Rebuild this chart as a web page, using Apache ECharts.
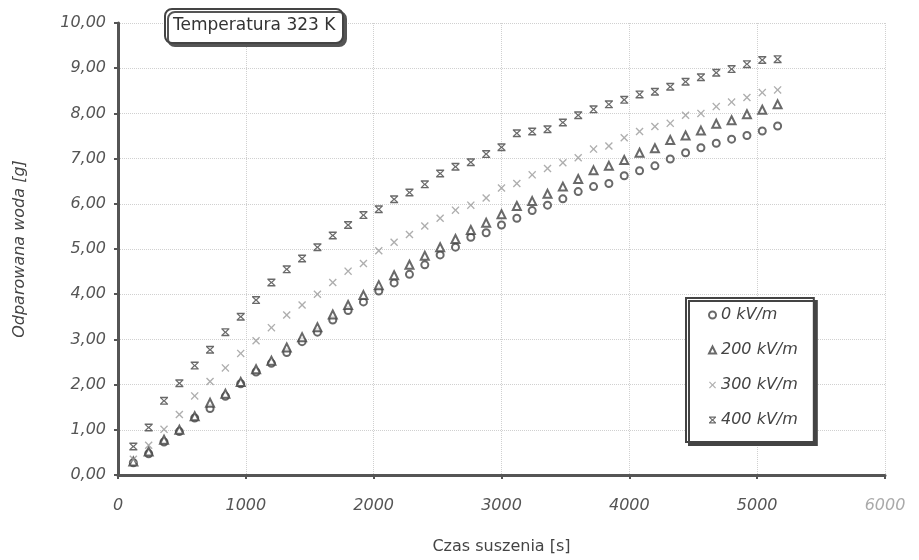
<!DOCTYPE html>
<html>
<head>
<meta charset="utf-8">
<script src="https://cdn.jsdelivr.net/npm/echarts@6/dist/echarts.min.js"></script>
<style>html,body{margin:0;padding:0;background:#fff;}#c{width:919px;height:560px;}</style>
</head>
<body>
<div id="c"></div>
<script>
// Czas suszenia [s]
var times = [120,240,360,480,600,720,840,960,1080,1200,1320,1440,1560,1680,1800,1920,2040,2160,2280,2400,2520,2640,2760,2880,3000,3120,3240,3360,3480,3600,3720,3840,3960,4080,4200,4320,4440,4560,4680,4800,4920,5040,5160];
var s0 = [0.27,0.47,0.73,0.96,1.26,1.47,1.74,2.02,2.28,2.47,2.71,2.95,3.16,3.43,3.64,3.83,4.07,4.25,4.44,4.65,4.87,5.04,5.26,5.36,5.53,5.68,5.85,5.97,6.11,6.27,6.38,6.45,6.62,6.73,6.84,6.99,7.13,7.24,7.34,7.43,7.51,7.61,7.72];
var s200 = [0.30,0.52,0.78,1.00,1.30,1.60,1.80,2.06,2.34,2.53,2.82,3.05,3.27,3.55,3.76,3.98,4.20,4.42,4.65,4.85,5.04,5.22,5.42,5.58,5.77,5.95,6.06,6.22,6.38,6.55,6.74,6.84,6.97,7.13,7.23,7.41,7.51,7.62,7.77,7.85,7.98,8.08,8.20];
var s300 = [0.35,0.66,1.01,1.34,1.75,2.07,2.37,2.69,2.97,3.26,3.54,3.76,4.00,4.26,4.51,4.68,4.96,5.15,5.32,5.51,5.68,5.86,5.97,6.13,6.35,6.45,6.64,6.78,6.91,7.02,7.21,7.28,7.46,7.60,7.71,7.78,7.96,8.00,8.15,8.25,8.35,8.46,8.52];
var s400 = [0.63,1.05,1.64,2.03,2.42,2.77,3.16,3.50,3.87,4.26,4.55,4.79,5.04,5.30,5.53,5.75,5.88,6.10,6.25,6.43,6.67,6.82,6.92,7.10,7.25,7.56,7.60,7.65,7.80,7.96,8.09,8.20,8.30,8.42,8.48,8.59,8.70,8.80,8.90,8.98,9.09,9.18,9.20];
var seriesNames = ['0 kV/m','200 kV/m','300 kV/m','400 kV/m'];
var xTicks = [0,1000,2000,3000,4000,5000,6000];

function pairs(arr){ return times.map(function(t,i){ return [t, arr[i]]; }); }

var FONT = 'DejaVu Sans';
var xSym = 'path://M0,1.2L1.2,0L5,3.8L8.8,0L10,1.2L6.2,5L10,8.8L8.8,10L5,6.2L1.2,10L0,8.8L3.8,5Z';
var xBarSym = 'path://M0,0L10,0L10,1.8L0,1.8Z M0,8.2L10,8.2L10,10L0,10Z M0.4,1.8L2.4,1.8L5,4.1L7.6,1.8L9.6,1.8L6.3,5L9.6,8.2L7.6,8.2L5,5.9L2.4,8.2L0.4,8.2L3.7,5Z';

var chart = echarts.init(document.getElementById('c'));
chart.setOption({
  backgroundColor: '#fff',
  animation: false,
  textStyle: { fontFamily: FONT },
  title: {
    text: 'Temperatura 323 K',
    left: 165, top: 9,
    padding: [7, 8, 7, 8],
    backgroundColor: '#fff',
    borderColor: '#444', borderWidth: 2, borderRadius: 7,
    shadowColor: '#555', shadowOffsetX: 3, shadowOffsetY: 3, shadowBlur: 0,
    textStyle: { fontFamily: FONT, fontSize: 17, fontWeight: 'normal', color: '#333', lineHeight: 20 }
  },
  legend: {
    orient: 'vertical',
    left: 686, top: 298,
    itemWidth: 7, itemHeight: 7, itemGap: 17,
    padding: [8, 16, 13, 22],
    backgroundColor: '#fff',
    borderColor: '#444', borderWidth: 2,
    shadowColor: '#444', shadowOffsetX: 3, shadowOffsetY: 3, shadowBlur: 0,
    textStyle: { fontFamily: FONT, fontSize: 16, fontStyle: 'italic', color: '#444', lineHeight: 18 },
    data: seriesNames
  },
  grid: { left: 118, right: 34, top: 23, bottom: 85 },
  xAxis: {
    type: 'value', min: 0, max: 6000, interval: 1000,
    name: 'Czas suszenia [s]', nameLocation: 'middle', nameGap: 64,
    nameTextStyle: { fontFamily: FONT, fontSize: 16, color: '#444' },
    axisLine: { lineStyle: { color: '#555', width: 3 } },
    axisTick: { show: true, length: 4, lineStyle: { color: '#555', width: 2 } },
    axisLabel: {
      margin: 23, fontFamily: FONT, fontSize: 16, fontStyle: 'italic', color: '#555',
      formatter: function(v){ return v === 6000 ? '{l|6000}' : String(v); },
      rich: { l: { color: '#aaa', fontFamily: FONT, fontSize: 16, fontStyle: 'italic' } },
      customValues: xTicks
    },
    splitLine: { show: true, lineStyle: { color: '#d0d0d0', type: 'dotted', width: 1 } }
  },
  yAxis: {
    type: 'value', min: 0, max: 10, interval: 1,
    name: 'Odparowana woda [g]', nameLocation: 'middle', nameGap: 90,
    nameTextStyle: { fontFamily: FONT, fontSize: 16, fontStyle: 'italic', color: '#444' },
    axisLine: { show: true, lineStyle: { color: '#555', width: 3 } },
    axisTick: { show: true, length: 4, lineStyle: { color: '#555', width: 2 } },
    axisLabel: {
      margin: 12, fontFamily: FONT, fontSize: 16, fontStyle: 'italic', color: '#555',
      formatter: function(v){ return v.toFixed(2).replace('.', ','); }
    },
    splitLine: { show: true, lineStyle: { color: '#d0d0d0', type: 'dotted', width: 1 } }
  },
  series: [
    { name: seriesNames[0], type: 'scatter', data: pairs(s0), symbol: 'emptyCircle', symbolSize: 7,
      itemStyle: { color: '#444', borderWidth: 2 } },
    { name: seriesNames[1], type: 'scatter', data: pairs(s200), symbol: 'emptyTriangle', symbolSize: 8,
      itemStyle: { color: '#444', borderWidth: 1.8 } },
    { name: seriesNames[2], type: 'scatter', data: pairs(s300), symbol: xSym, symbolSize: 8,
      itemStyle: { color: '#9a9a9a' } },
    { name: seriesNames[3], type: 'scatter', data: pairs(s400), symbol: xBarSym, symbolSize: 8,
      itemStyle: { color: '#444' } }
  ]
});
</script>
</body>
</html>
